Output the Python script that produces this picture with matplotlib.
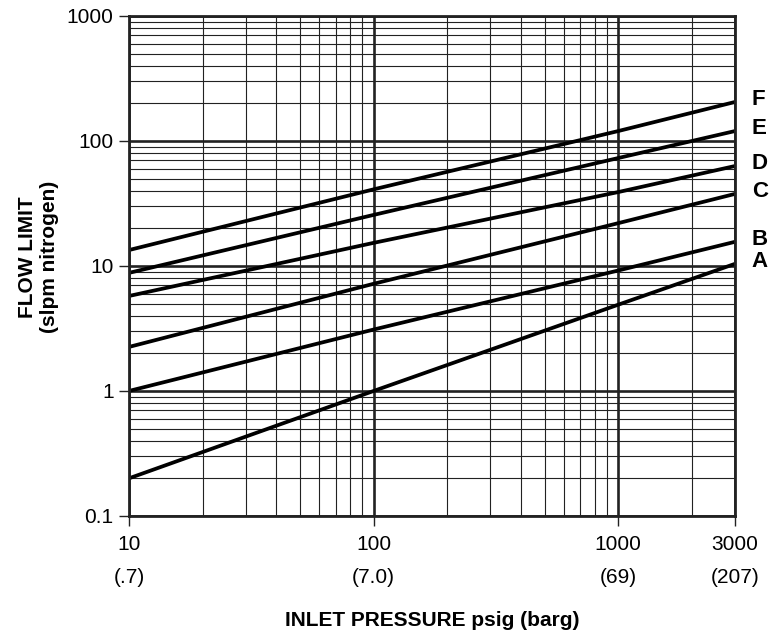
import matplotlib.pyplot as plt
from matplotlib.ticker import FixedLocator, NullFormatter, LogLocator

plt.rcParams['font.family'] = ['Liberation Sans', 'DejaVu Sans']
plt.rcParams['font.size'] = 15

# inlet pressure (psig) where values were read
pressure = [10, 100, 1000, 3000]

# flow limit curves (slpm nitrogen)
curves = {
    'A': [0.2, 1.0, 4.9, 10.4],
    'B': [1.0, 3.1, 9.2, 15.6],
    'C': [2.25, 7.2, 22.0, 37.7],
    'D': [5.75, 15.3, 39.0, 63.0],
    'E': [8.8, 25.6, 73.0, 120.0],
    'F': [13.4, 41.0, 120.0, 205.0],
}

x_ticks = [10, 100, 1000, 3000]
x_labels = ['10', '100', '1000', '3000']
barg_labels = ['(.7)', '(7.0)', '(69)', '(207)']
y_ticks = [0.1, 1, 10, 100, 1000]
y_labels = ['0.1', '1', '10', '100', '1000']

fig = plt.figure(figsize=(7.76, 6.37), dpi=100)
ax = fig.add_axes([0.1662, 0.19, 0.781, 0.785])
ax.set_xscale('log')
ax.set_yscale('log')
ax.set_xlim(10, 3000)
ax.set_ylim(0.1, 1000)

# grid
ax.xaxis.set_minor_locator(LogLocator(base=10, subs=range(2, 10)))
ax.yaxis.set_minor_locator(LogLocator(base=10, subs=range(2, 10)))
ax.grid(which='minor', color='#222222', linewidth=0.8)
ax.grid(which='major', color='#222222', linewidth=1.9)

ax.xaxis.set_major_locator(FixedLocator(x_ticks))
ax.set_xticklabels(x_labels)
ax.yaxis.set_major_locator(FixedLocator(y_ticks))
ax.set_yticklabels(y_labels)
ax.xaxis.set_minor_formatter(NullFormatter())
ax.yaxis.set_minor_formatter(NullFormatter())
ax.tick_params(which='minor', length=0)
ax.tick_params(which='major', length=7.5, width=1, color='#222222', pad=3.5)
ax.tick_params(axis='x', pad=6)

for s in ax.spines.values():
    s.set_linewidth(2)
    s.set_color('#222222')

# barg equivalents under the psig ticks
for xv, lab in zip(x_ticks, barg_labels):
    ax.annotate(lab, xy=(xv, 0), xycoords=('data', 'axes fraction'),
                xytext=(0, -44), textcoords='offset points',
                ha='center', va='center', annotation_clip=False)

for name, vals in curves.items():
    ax.plot(pressure, vals, color='black', linewidth=2.7, solid_capstyle='butt')
    ax.annotate(name, xy=(3000, vals[-1]), xytext=(12, 1.5), textcoords='offset points',
                ha='left', va='center', fontsize=16, fontweight='bold', annotation_clip=False)

ax.set_xlabel('INLET PRESSURE psig (barg)', fontsize=15, fontweight='bold')
ax.xaxis.set_label_coords(0.5, -0.19)
ax.set_ylabel('FLOW LIMIT\n(slpm nitrogen)', fontsize=15, fontweight='bold')
ax.yaxis.set_label_coords(-0.115, 0.518)

fig.savefig('out.png', dpi=100)
